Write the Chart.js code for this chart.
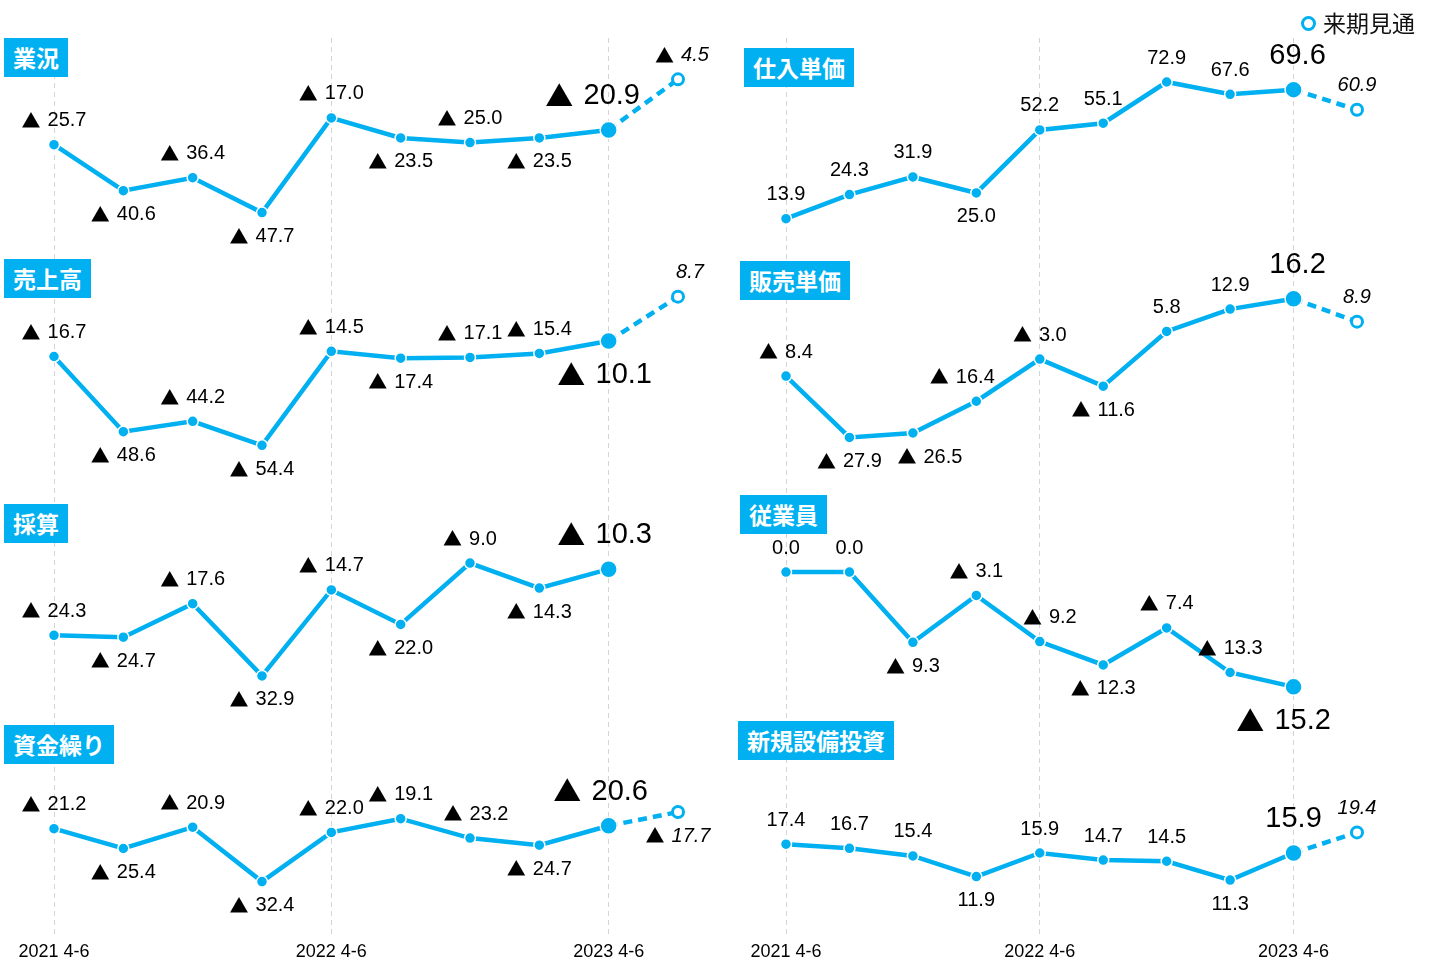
<!DOCTYPE html>
<html>
<head>
<meta charset="utf-8">
<script src="https://cdn.jsdelivr.net/npm/chart.js@4.4.0/dist/chart.umd.min.js"></script>
<style>
  html, body { margin: 0; padding: 0; background: #fff; }
  #wrap { position: relative; width: 1437px; height: 966px; overflow: hidden; }
  canvas { position: absolute; top: 0; }
  .tag {
    position: absolute; background: #00b0f0; color: #fff;
    font: bold 23px "Noto Sans CJK JP"; height: 39px; line-height: 39px; padding: 0 9px;
  }
  .legend { position: absolute; left: 1301px; top: 5px; font: 23px "Noto Sans CJK JP"; color: #111; }
  .legend i {
    display: inline-block; width: 9px; height: 9px; border: 3px solid #00b0f0;
    border-radius: 50%; margin-right: 7px; vertical-align: 1px;
  }
</style>
</head>
<body>
<div id="wrap">
  <canvas id="left" width="720" height="966" style="left:0;width:720px;height:966px"></canvas>
  <canvas id="right" width="707" height="966" style="left:730px;width:707px;height:966px"></canvas>

  <div class="tag" style="left:4px;top:38px">業況</div>
  <div class="tag" style="left:4px;top:259px">売上高</div>
  <div class="tag" style="left:4px;top:504px">採算</div>
  <div class="tag" style="left:4px;top:725px">資金繰り</div>
  <div class="tag" style="left:744px;top:48px">仕入単価</div>
  <div class="tag" style="left:740px;top:261px">販売単価</div>
  <div class="tag" style="left:740px;top:495px">従業員</div>
  <div class="tag" style="left:738px;top:721px">新規設備投資</div>

  <div class="legend"><i></i>来期見通</div>
</div>

<script>
// --------------------------------------------------
// data (▲ = minus)
const quarters = ["2021 4-6", "2021 7-9", "2021 10-12", "2022 1-3", "2022 4-6",
  "2022 7-9", "2022 10-12", "2023 1-3", "2023 4-6", "来期見通"];

const gyokyo = [-25.7, -40.6, -36.4, -47.7, -17.0, -23.5, -25.0, -23.5, -20.9];
const gyokyoNext = -4.5;
const uriage = [-16.7, -48.6, -44.2, -54.4, -14.5, -17.4, -17.1, -15.4, -10.1];
const uriageNext = 8.7;
const saisan = [-24.3, -24.7, -17.6, -32.9, -14.7, -22.0, -9.0, -14.3, -10.3];
const shikin = [-21.2, -25.4, -20.9, -32.4, -22.0, -19.1, -23.2, -24.7, -20.6];
const shikinNext = -17.7;

const shiire = [13.9, 24.3, 31.9, 25.0, 52.2, 55.1, 72.9, 67.6, 69.6];
const shiireNext = 60.9;
const hanbai = [-8.4, -27.9, -26.5, -16.4, -3.0, -11.6, 5.8, 12.9, 16.2];
const hanbaiNext = 8.9;
const jugyoin = [0.0, 0.0, -9.3, -3.1, -9.2, -12.3, -7.4, -13.3, -15.2];
const setsubi = [17.4, 16.7, 15.4, 11.9, 15.9, 14.7, 14.5, 11.3, 15.9];
const setsubiNext = 19.4;

// --------------------------------------------------
const BLUE = "#00b0f0";
const FONT = '"Liberation Sans", Arial, sans-serif';
const TRI_FONT = '"Noto Sans CJK JP"';

// a = label above, b = label below, shift = small x nudges (index -> px)
// range = hidden y axis min/max, every panel gets its own band
const leftPanels = [
  { vals: gyokyo, next: gyokyoNext, place: "ababababa", nextPlace: "a", shift: { 8: -16, 9: 4 }, range: [-283.0, 8.9] },
  { vals: uriage, next: uriageNext, place: "abababaab", nextPlace: "a", shift: { 8: -4, 9: 12 }, range: [-263.7, 118.5] },
  { vals: saisan, place: "ababababa", shift: { 8: -4 }, range: [-88.5, 102.2] },
  { vals: shikin, next: shikinNext, place: "ababaaaba", nextPlace: "b", shift: { 6: 6, 8: -8 }, range: [-44.4, 145.9] },
];

const rightPanels = [
  { vals: shiire, next: shiireNext, place: "aaabaaaaa", nextPlace: "a", shift: { 8: 4 }, range: [-296.9, 91.9] },
  { vals: hanbai, next: hanbaiNext, place: "abbaabaaa", nextPlace: "a", shift: { 2: 17, 3: -14, 8: 4 }, range: [-187.2, 99.1] },
  { vals: jugyoin, place: "aabaabaab", shift: { 4: 10, 8: -10 }, range: [-48.5, 70.7] },
  { vals: setsubi, next: setsubiNext, place: "aaabaaaba", nextPlace: "a", shift: {}, range: [1.4, 154.3] },
];

// --------------------------------------------------
const valueLabels = {
  id: "valueLabels",
  afterDatasetsDraw(chart) {
    const ctx = chart.ctx;
    ctx.save();
    ctx.textAlign = "left";
    ctx.textBaseline = "middle";
    ctx.fillStyle = "#000";
    chart.data.datasets.forEach((ds, di) => {
      const meta = chart.getDatasetMeta(di);
      ds.data.forEach((v, i) => {
        const where = ds.place[i];
        if (v == null || (where !== "a" && where !== "b")) return;
        const big = !ds.forecast && i === 8;
        const size = big ? 29 : 20;
        const numFont = (ds.forecast ? "italic " : "") + size + "px " + FONT;
        const triFont = Math.round(size * 0.95) + "px " + TRI_FONT;
        const num = Math.abs(v).toFixed(1);

        ctx.font = numFont;
        const wn = ctx.measureText(num).width;
        let wt = 0;
        const gap = size * 0.35;
        if (v < 0) {
          ctx.font = triFont;
          wt = ctx.measureText("▲").width + gap;
        }
        const pt = meta.data[i];
        const off = big ? 34 : 24;
        const y = pt.y + (where === "a" ? -off : off);
        let x = pt.x + (ds.shift[i] || 0) - (wt + wn) / 2;
        if (v < 0) {
          ctx.font = triFont;
          ctx.fillText("▲", x, y);
          x += wt;
        }
        ctx.font = numFont;
        ctx.fillText(num, x, y);
      });
    });
    ctx.restore();
  },
};

function buildColumn(id, panels, padLeft, padRight) {
  const datasets = [];
  const scales = {
    x: {
      grid: {
        drawTicks: false,
        color: (c) => (c.index % 4 === 0 && c.index < 9 ? "#d4d4d4" : "rgba(0,0,0,0)"),
      },
      border: { display: false, dash: [5, 4] },
      ticks: {
        autoSkip: false,
        maxRotation: 0,
        padding: 3,
        color: "#000",
        font: { family: FONT, size: 18 },
        callback: (val, i) => (i % 4 === 0 && i < 9 ? quarters[i] : ""),
      },
    },
  };

  panels.forEach((p, k) => {
    const yid = "y" + k;
    scales[yid] = { display: false, min: p.range[0], max: p.range[1] };

    datasets.push({
      data: p.vals,
      yAxisID: yid,
      place: p.place,
      shift: p.shift,
      borderColor: BLUE,
      borderWidth: 4.5,
      pointRadius: (c) => (c.dataIndex === 8 ? 8.5 : 5.5),
      pointBackgroundColor: BLUE,
      pointBorderColor: "#fff",
      pointBorderWidth: 1.5,
    });

    if (p.next !== undefined) {
      const fc = p.vals.map((v, i) => (i === 8 ? v : null));
      fc.push(p.next);
      datasets.push({
        data: fc,
        yAxisID: yid,
        forecast: true,
        place: "         " + p.nextPlace,
        shift: p.shift,
        borderColor: BLUE,
        borderWidth: 4.5,
        borderDash: [9, 6],
        pointRadius: (c) => (c.dataIndex === 9 ? 5.5 : 0),
        pointBackgroundColor: "#fff",
        pointBorderColor: BLUE,
        pointBorderWidth: 3,
      });
    }
  });

  return new Chart(document.getElementById(id), {
    type: "line",
    data: { labels: quarters, datasets: datasets },
    options: {
      responsive: false,
      animation: false,
      layout: { padding: { left: padLeft, right: padRight, top: 38, bottom: 0 } },
      plugins: { legend: { display: false }, tooltip: { enabled: false } },
      scales: scales,
    },
    plugins: [valueLabels],
  });
}

buildColumn("left", leftPanels, 54, 42);
buildColumn("right", rightPanels, 56, 80);
</script>
</body>
</html>
